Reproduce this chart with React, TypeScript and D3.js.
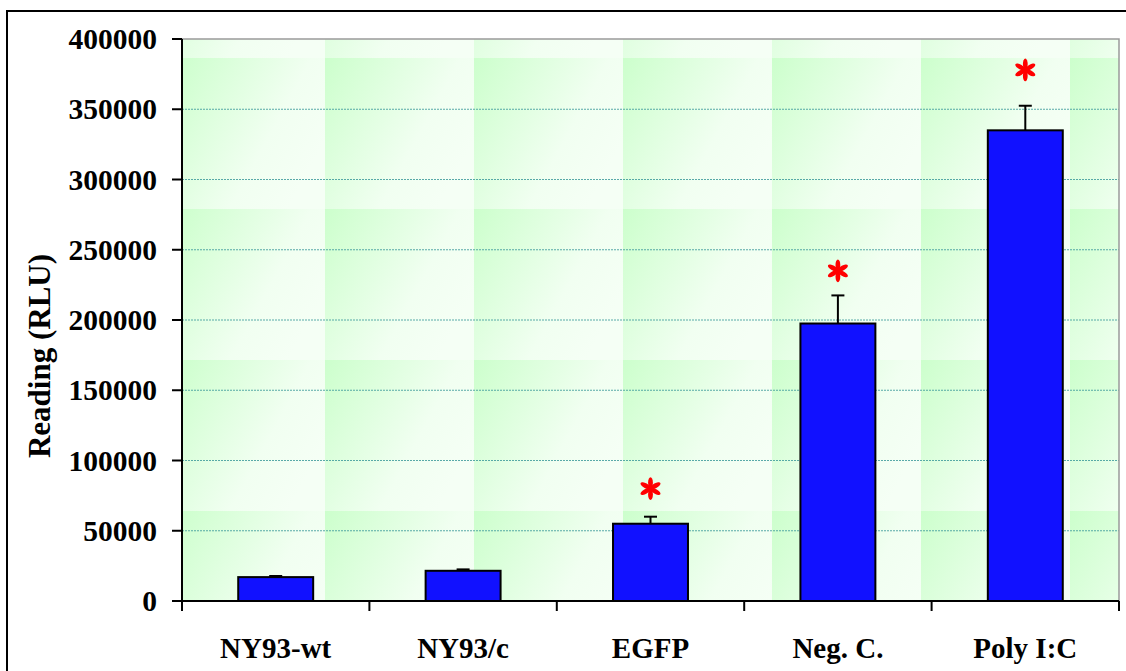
import React from "react";
import * as d3 from "d3";

const categories = ["NY93-wt", "NY93/c", "EGFP", "Neg. C.", "Poly I:C"];
const values = [17000, 21500, 55000, 197500, 335000];
const errors = [800, 1000, 5000, 20000, 17500];
const significant = [false, false, true, true, true];
const starLevels = [0, 0, 80000, 235000, 378000];
const yTicks = [0, 50000, 100000, 150000, 200000, 250000, 300000, 350000, 400000];
const yTitle = "Reading (RLU)";

const W = 1126;
const H = 671;
const M = { left: 182, right: 1119, top: 39, bottom: 601 };
const FONT = "'Liberation Serif', 'Times New Roman', serif";

function Star({ cx, cy }: { cx: number; cy: number }) {
  const petals = [0, 60, 120, 180, 240, 300];
  return (
    <g transform={`translate(${cx},${cy})`}>
      {petals.map((a) => (
        <ellipse key={a} cx={0} cy={-5.8} rx={2.4} ry={5.6} fill="#ff0000" transform={`rotate(${a})`} />
      ))}
      <circle cx={0} cy={0} r={1.6} fill="#ff0000" />
    </g>
  );
}

export default function App() {
  const x = d3.scaleBand<string>().domain(categories).range([M.left, M.right]).paddingInner(0.6).paddingOuter(0.3);
  const band = d3.scaleBand<string>().domain(categories).range([M.left, M.right]);
  const y = d3.scaleLinear().domain([0, 400000]).range([M.bottom, M.top]);
  const bounds = categories.map((c) => band(c) as number).concat([M.right]);

  return (
    <svg width={W} height={H} style={{ position: "absolute", left: 0, top: 0 }} fontFamily={FONT}>
      <defs>
        <linearGradient id="tileGrad" x1="0" y1="0" x2="1" y2="0.55">
          <stop offset="0" stopColor="#ccffcc" />
          <stop offset="0.7" stopColor="#f1fff1" />
          <stop offset="1" stopColor="#f5fff5" />
        </linearGradient>
        <pattern id="tiles" patternUnits="userSpaceOnUse" x={176} y={58} width={149} height={151}>
          <rect x={0} y={0} width={149} height={151} fill="url(#tileGrad)" />
        </pattern>
      </defs>
      <rect x={0} y={0} width={W} height={H} fill="#ffffff" />
      <rect x={7} y={11} width={W + 20} height={H + 20} fill="none" stroke="#000" strokeWidth={2} />

      {/* plot background */}
      <rect x={M.left} y={M.top} width={M.right - M.left} height={M.bottom - M.top} fill="url(#tiles)" />

      {/* gridlines */}
      {yTicks.filter((t) => t > 0 && t < 400000).map((t) => (
        <line key={t} x1={M.left} x2={M.right} y1={y(t)} y2={y(t)} stroke="#3f9c9c" strokeWidth={1} strokeDasharray="2,1" opacity={0.85} />
      ))}

      {/* plot border top/right */}
      <path d={`M${M.left},${M.top}H${M.right}V${M.bottom}`} fill="none" stroke="#9a9a9a" strokeWidth={1.5} />

      {/* bars */}
      {categories.map((c, i) => {
        const bx = x(c) as number;
        const bw = x.bandwidth();
        const cx = bx + bw / 2;
        const top = y(values[i]);
        const et = y(values[i] + errors[i]);
        return (
          <g key={c}>
            <line x1={cx} x2={cx} y1={top} y2={et} stroke="#000" strokeWidth={2} />
            <line x1={cx - 6.5} x2={cx + 6.5} y1={et} y2={et} stroke="#000" strokeWidth={2} />
            <rect x={bx} y={top} width={bw} height={M.bottom - top} fill="#1111ff" stroke="#000" strokeWidth={2} />
            {significant[i] && <Star cx={cx} cy={y(starLevels[i])} />}
          </g>
        );
      })}

      {/* axes */}
      <line x1={M.left} x2={M.left} y1={M.top} y2={M.bottom + 10} stroke="#000" strokeWidth={2} />
      <line x1={M.left - 10} x2={M.right} y1={M.bottom} y2={M.bottom} stroke="#000" strokeWidth={2} />
      {yTicks.map((t) => (
        <g key={t}>
          <line x1={M.left - 10} x2={M.left} y1={y(t)} y2={y(t)} stroke="#000" strokeWidth={2} />
          <text x={157} y={y(t)} dy="0.34em" textAnchor="end" fontSize={29.5} fontWeight="bold" fill="#000">
            {t}
          </text>
        </g>
      ))}
      {bounds.map((b, i) => (
        <line key={i} x1={b} x2={b} y1={M.bottom} y2={M.bottom + 10} stroke="#000" strokeWidth={2} />
      ))}
      {categories.map((c) => (
        <text key={c} x={(band(c) as number) + band.bandwidth() / 2} y={658} textAnchor="middle" fontSize={29} fontWeight="bold" fill="#000">
          {c}
        </text>
      ))}
      <text transform={`translate(50,356) rotate(-90)`} textAnchor="middle" fontSize={31} fontWeight="bold" fill="#000">
        {yTitle}
      </text>
    </svg>
  );
}
